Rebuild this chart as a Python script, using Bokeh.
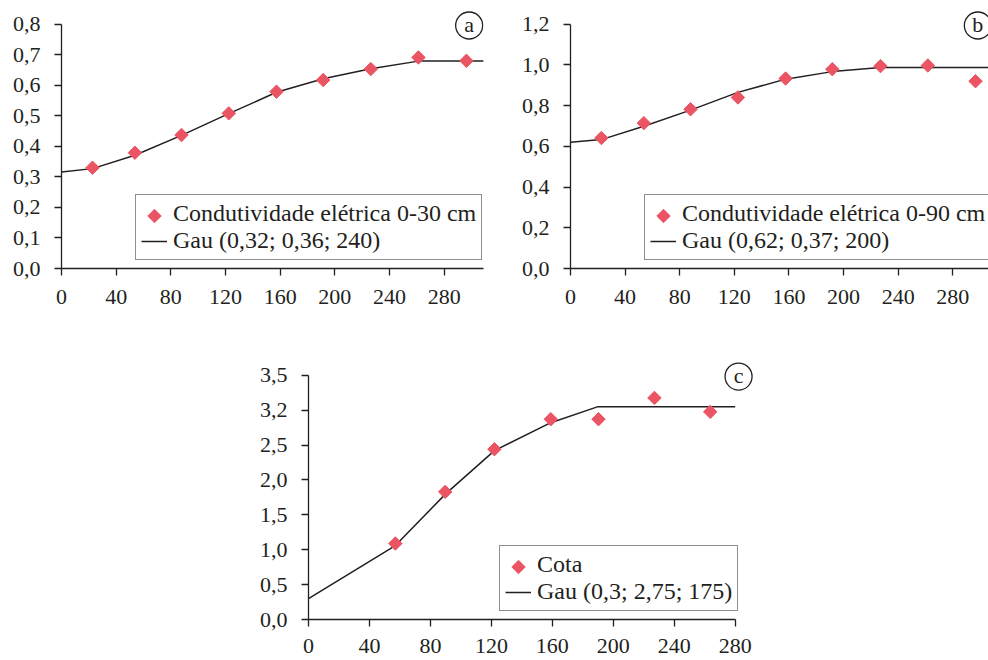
import math
from bokeh.plotting import figure
from bokeh.layouts import column, row
from bokeh.models import Range1d, FixedTicker, Legend, LegendItem, Spacer
from bokeh.core.properties import value
from bokeh.embed import file_html
from bokeh.resources import INLINE

INK = "#231f20"
PINK = "#ea5463"
FONT = "Liberation Serif"

# ---------------- data ----------------
x_ticks = [0, 40, 80, 120, 160, 200, 240, 280]
x_labels = ["0", "40", "80", "120", "160", "200", "240", "280"]

# panel a
lags_a = [22.7, 53.7, 87.8, 122.4, 157.3, 191.5, 226.3, 261.2, 296.3]
ce30 = [0.330, 0.379, 0.437, 0.508, 0.579, 0.617, 0.653, 0.691, 0.680]
fit_a_x = [0, 22.7, 53.7, 87.8, 122.4, 157.3, 191.5, 226.3, 261.2, 309]
fit_a_y = [0.316, 0.327, 0.371, 0.436, 0.507, 0.577, 0.621, 0.654, 0.679, 0.679]
y_ticks_a = [0, 0.1, 0.2, 0.3, 0.4, 0.5, 0.6, 0.7, 0.8]
y_labels_a = ["0,0", "0,1", "0,2", "0,3", "0,4", "0,5", "0,6", "0,7", "0,8"]
label_pts_a = "Condutividade elétrica 0-30 cm"
label_fit_a = "Gau (0,32; 0,36; 240)"

# panel b
lags_b = [22.6, 53.7, 87.9, 122.6, 157.5, 191.7, 227.0, 261.7, 296.6]
ce90 = [0.641, 0.714, 0.782, 0.840, 0.933, 0.979, 0.994, 0.997, 0.920]
fit_b_x = [0, 22.6, 53.7, 87.9, 122.6, 157.5, 191.7, 227.0, 307]
fit_b_y = [0.620, 0.633, 0.699, 0.778, 0.865, 0.930, 0.967, 0.987, 0.987]
y_ticks_b = [0, 0.2, 0.4, 0.6, 0.8, 1.0, 1.2]
y_labels_b = ["0,0", "0,2", "0,4", "0,6", "0,8", "1,0", "1,2"]
label_pts_b = "Condutividade elétrica 0-90 cm"
label_fit_b = "Gau (0,62; 0,37; 200)"

# panel c
lags_c = [57, 89.7, 122, 159, 190.3, 227, 263.6]
cota = [1.089, 1.829, 2.44, 2.87, 2.87, 3.175, 2.975]
fit_c_x = [0, 57, 90, 122, 159, 190, 280]
fit_c_y = [0.30, 1.06, 1.80, 2.42, 2.82, 3.05, 3.05]
y_ticks_c = [0, 0.5, 1.0, 1.5, 2.0, 2.5, 3.0, 3.5]
y_labels_c = ["0,0", "0,5", "1,0", "1,5", "2,0", "2,5", "3,2", "3,5"]
label_pts_c = "Cota"
label_fit_c = "Gau (0,3; 2,75; 175)"

tags = ["a", "b", "c"]


def make_panel(xs, ys, fx, fy, yticks, ylabels, lab_pts, lab_fit, tag, tag_xy,
               x_end, y_top, y_bound, x_bound, frame_w, frame_h,
               mb_left, mb_right, mb_top, mb_bottom, legend_loc, swatch_px,
               x_standoff=14):
    p = figure(frame_width=frame_w, frame_height=frame_h,
               x_range=Range1d(0, x_end), y_range=Range1d(0, y_top),
               output_backend="svg", toolbar_location=None,
               min_border_left=mb_left, min_border_right=mb_right,
               min_border_top=mb_top, min_border_bottom=mb_bottom,
               background_fill_color="white", border_fill_color="white")
    p.xgrid.visible = False
    p.ygrid.visible = False
    p.outline_line_color = None

    for ax in (p.xaxis[0], p.yaxis[0]):
        ax.axis_line_color = INK
        ax.axis_line_width = 1.3
        ax.major_tick_line_color = INK
        ax.major_tick_line_width = 1.3
        ax.major_tick_in = 0
        ax.major_tick_out = 7
        ax.minor_tick_line_color = None
        ax.major_label_text_font = FONT
        ax.major_label_text_font_size = "22px"
        ax.major_label_text_color = INK

    p.xaxis.ticker = FixedTicker(ticks=x_ticks)
    p.xaxis.major_label_overrides = dict(zip(x_ticks, x_labels))
    p.xaxis.major_label_standoff = x_standoff
    if x_bound is not None:
        p.xaxis.bounds = x_bound
    p.yaxis.ticker = FixedTicker(ticks=yticks)
    p.yaxis.major_label_overrides = dict(zip(yticks, ylabels))
    p.yaxis.major_label_standoff = 14
    p.yaxis.bounds = y_bound

    r_fit = p.line(fx, fy, line_color=INK, line_width=1.5)
    p.scatter(xs, ys, marker="square", angle=math.pi / 4, size=9.5,
              fill_color=PINK, line_color=PINK)
    # invisible stand-in so the legend keeps an empty glyph slot for the points
    r_blank = p.scatter(x=[], y=[], marker="square", size=1,
                        fill_alpha=0, line_alpha=0)

    p.scatter([tag_xy[0]], [tag_xy[1]], marker="circle", size=27,
              fill_color=None, line_color=INK, line_width=1.3)
    p.text([tag_xy[0]], [tag_xy[1]], text=[tag], text_align="center",
           text_baseline="middle", text_font=value(FONT),
           text_font_size="22px", text_color=INK, y_offset=-1)

    legend = Legend(items=[LegendItem(label=lab_pts, renderers=[r_blank]),
                           LegendItem(label=lab_fit, renderers=[r_fit])],
                    location=legend_loc, margin=0, padding=5, spacing=0,
                    glyph_width=26, glyph_height=20, label_height=20,
                    label_standoff=6, label_text_font=FONT,
                    label_text_font_size="24px", label_text_line_height=1.1,
                    label_text_color=INK,
                    border_line_color=INK, border_line_width=1.3,
                    background_fill_alpha=0.0)
    p.add_layout(legend)

    # legend swatch (rotated square) placed in the legend's empty glyph slot
    sx = swatch_px[0] * x_end / frame_w
    sy = swatch_px[1] * y_top / frame_h
    p.scatter([sx], [sy], marker="square", angle=math.pi / 4, size=9.5,
              fill_color=PINK, line_color=PINK)
    return p


pa = make_panel(lags_a, ce30, fit_a_x, fit_a_y, y_ticks_a, y_labels_a,
                label_pts_a, label_fit_a, tags[0], (298.3, 0.7957),
                x_end=308.8, y_top=0.8513, y_bound=(0, 0.8), x_bound=None,
                frame_w=422, frame_h=260, mb_left=61, mb_right=35,
                mb_top=8, mb_bottom=50, legend_loc=(74, 8), swatch_px=(93, 52.5))

pb = make_panel(lags_b, ce90, fit_b_x, fit_b_y, y_ticks_b, y_labels_b,
                label_pts_b, label_fit_b, tags[1], (298.3, 1.1935),
                x_end=306.1, y_top=1.277, y_bound=(0, 1.2), x_bound=None,
                frame_w=418, frame_h=260, mb_left=52, mb_right=0,
                mb_top=8, mb_bottom=50, legend_loc=(74, 8), swatch_px=(93, 52.5))

pc = make_panel(lags_c, cota, fit_c_x, fit_c_y, y_ticks_c, y_labels_c,
                label_pts_c, label_fit_c, tags[2], (282.2, 3.481),
                x_end=292, y_top=3.711, y_bound=(0, 3.5), x_bound=(0, 280),
                frame_w=445, frame_h=259, mb_left=61, mb_right=0,
                mb_top=42, mb_bottom=41, legend_loc=(191, 8), swatch_px=(210, 52.5),
                x_standoff=12)

layout = column(row(pa, pb), row(Spacer(width=247, height=10), pc))

open("out.html", "w").write(file_html(layout, INLINE))
